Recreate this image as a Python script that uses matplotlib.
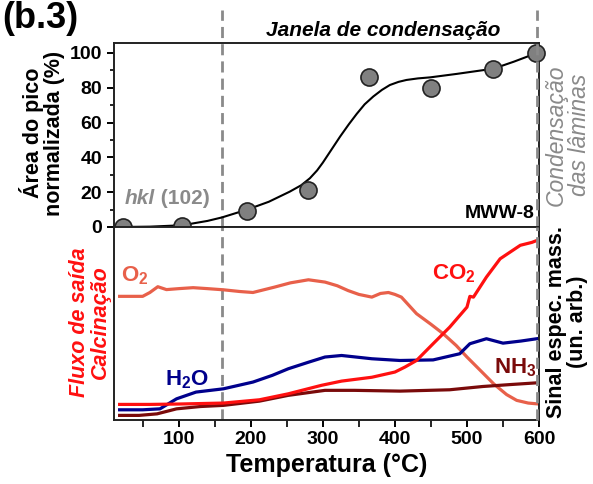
import matplotlib
matplotlib.use('Agg')
import matplotlib.pyplot as plt

plt.rcParams['font.family'] = ['Liberation Sans', 'DejaVu Sans']
plt.rcParams['mathtext.fontset'] = 'custom'
plt.rcParams['mathtext.rm'] = 'Liberation Sans:bold'
plt.rcParams['mathtext.bf'] = 'Liberation Sans:bold'
plt.rcParams['mathtext.default'] = 'rm'

# top panel: normalised peak area hkl (102)
area_T = [22, 105, 195, 279, 364, 450, 536, 596]
area_v = [0, 0.5, 9.2, 21, 86, 80, 91, 100]

# fitted curve
fit_T = [20, 60, 105, 140, 160, 195, 225, 254, 270, 282, 292, 300, 312, 324, 336,
         347, 358, 370, 382, 393, 405, 416, 432, 449, 486, 537, 565, 597]
fit_v = [0, 0.2, 1, 3.5, 5.5, 10, 14.5, 20.3, 24, 28, 32.5, 37, 44.5, 52, 59,
         65, 70.5, 75, 78.8, 81.6, 83.4, 84.5, 85.4, 86, 88, 91, 95, 100]

# bottom panel: mass spec signals (arb. units, 0-100 of panel height)
o2_T = [18, 50, 60, 71, 83, 100, 120, 140, 162, 185, 203, 233, 255, 280, 303, 320,
        335, 350, 368, 380, 391, 400, 409, 430, 450, 467, 485, 500, 520, 537, 555, 569, 585, 597]
o2_v = [64, 64, 66, 69, 67.5, 68, 68.5, 68, 67.4, 66.5, 66, 68.8, 71, 72.6, 71.4, 69.5,
        67, 65, 63.6, 65.5, 66, 65, 63.6, 55, 49.5, 44.6, 38.5, 32.5, 25, 18.6, 13, 10, 8.6, 8.2]

co2_T = [18, 60, 100, 162, 212, 252, 298, 326, 368, 400, 414, 430, 453, 476, 500,
         504, 509, 527, 546, 560, 574, 590, 597]
co2_v = [7.9, 7.9, 8.1, 8.6, 10.3, 13.4, 17.8, 20, 22, 24.7, 27.3, 30.7, 39.4, 48, 58.4,
         64, 63.6, 74, 83.5, 87, 90.5, 92, 93]

h2o_T = [18, 50, 74, 97, 124, 162, 203, 230, 252, 280, 303, 326, 368, 407, 453, 490,
         504, 527, 550, 575, 597]
h2o_v = [5.1, 5.1, 5.6, 10.8, 14.3, 16, 19.5, 23, 26.4, 29.8, 32.5, 33.3, 31.6, 30.7,
         31, 34.2, 39.4, 42, 39.7, 40.8, 42]

nh3_T = [18, 45, 70, 97, 130, 162, 212, 252, 303, 344, 407, 476, 522, 560, 597]
nh3_v = [2.2, 2.2, 3, 5.6, 6.8, 7.4, 9.6, 12.6, 15.2, 15.2, 14.8, 15.5, 17.2, 18.2, 19.1]

gray = '#8a8a8a'
dash = (0, (4, 2.2))

fig = plt.figure(figsize=(5.93, 4.84), dpi=100)
ax1 = fig.add_axes([0.192, 0.531, 0.717, 0.380])
ax2 = fig.add_axes([0.192, 0.133, 0.717, 0.398])

for ax in (ax1, ax2):
    ax.set_xlim(10, 600)
    for s in ax.spines.values():
        s.set_linewidth(1.4)
        s.set_color('#222222')

# top panel
ax1.set_ylim(0, 105.7)
ax1.set_yticks([0, 20, 40, 60, 80, 100])
ax1.set_yticks(range(10, 101, 20), minor=True)
ax1.tick_params(axis='y', which='major', direction='out', length=5, width=1.4, labelsize=14)
ax1.tick_params(axis='y', which='minor', direction='out', length=3, width=1.2)
ax1.tick_params(axis='x', which='both', bottom=False, labelbottom=False)
for lab in ax1.get_yticklabels():
    lab.set_fontweight('bold')

ax1.plot(fit_T, fit_v, color='black', lw=1.5, zorder=3)
ax1.plot(area_T, area_v, 'o', ms=12.3, mfc='#808080', mec='#222222', mew=1.2,
         clip_on=False, zorder=6)
ax1.plot([160, 160], [0, 124.7], color=gray, lw=2, ls=dash, clip_on=False, zorder=2)
ax1.plot([597, 597], [0, 124.7], color=gray, lw=2, ls=dash, clip_on=False, zorder=7)

t1 = ax1.text(0.211, 0.589, 'hkl', transform=fig.transFigure, color=gray,
              fontsize=15, fontweight='bold', style='italic', va='center', ha='left')
ax1.annotate(' (102)', xy=(1, 0.5), xycoords=t1, color=gray, fontsize=15,
             fontweight='bold', va='center', ha='left')
ax1.text(0.902, 0.558, 'MWW-8', transform=fig.transFigure, fontsize=14,
         fontweight='bold', ha='right', va='center')

# bottom panel
ax2.set_ylim(0, 100)
ax2.set_yticks([])
ax2.set_xticks([100, 200, 300, 400, 500, 600])
ax2.set_xticks([50, 150, 250, 350, 450, 550], minor=True)
ax2.tick_params(axis='x', which='major', direction='out', length=5, width=1.4, labelsize=14)
ax2.tick_params(axis='x', which='minor', direction='out', length=5, width=1.2)
for lab in ax2.get_xticklabels():
    lab.set_fontweight('bold')

ax2.plot(o2_T, o2_v, color='#e8604a', lw=2.3)
ax2.plot(h2o_T, h2o_v, color='#00008c', lw=2.3)
ax2.plot(nh3_T, nh3_v, color='#7a0a0a', lw=2.3)
ax2.plot(co2_T, co2_v, color='#ff1010', lw=2.3)
ax2.plot([160, 160], [0, 100], color=gray, lw=2, ls=dash, zorder=1)
ax2.plot([597, 597], [0, 100], color=gray, lw=2, ls=dash, clip_on=False, zorder=7)

ax2.text(39, 74.5, 'O$_2$', color='#e8604a', fontsize=16, fontweight='bold', ha='center', va='center')
ax2.text(111, 20.5, 'H$_2$O', color='#00008c', fontsize=16, fontweight='bold', ha='center', va='center')
ax2.text(482, 76, 'CO$_2$', color='#ff1010', fontsize=16, fontweight='bold', ha='center', va='center')
ax2.text(567, 26.8, 'NH$_3$', color='#7a0a0a', fontsize=16, fontweight='bold', ha='center', va='center')

ax2.set_xlabel('Temperatura (°C)', fontsize=18, fontweight='bold', labelpad=3)

# figure-level labels
fig.text(0.004, 0.997, '(b.3)', fontsize=26, fontweight='bold', ha='left', va='top')
fig.text(0.647, 0.936, 'Janela de condensação', fontsize=15, fontweight='bold',
         style='italic', ha='center', va='center')
fig.text(0.070, 0.725, 'Área do pico\nnormalizada (%)', fontsize=15.5, fontweight='bold',
         rotation=90, ha='center', va='center', linespacing=1.0)
fig.text(0.152, 0.335, 'Fluxo de saída\nCalcinação', fontsize=15.5, fontweight='bold',
         style='italic', color='#ff1010', rotation=90, ha='center', va='center', linespacing=1.0)
fig.text(0.958, 0.721, 'Condensação\ndas lâminas', fontsize=16.5, style='italic', color=gray,
         rotation=90, ha='center', va='center', linespacing=1.0)
fig.text(0.956, 0.335, 'Sinal espec. mass.\n(un. arb.)', fontsize=15.5, fontweight='bold',
         rotation=90, ha='center', va='center', linespacing=1.0)

fig.savefig('out.png', dpi=100)
